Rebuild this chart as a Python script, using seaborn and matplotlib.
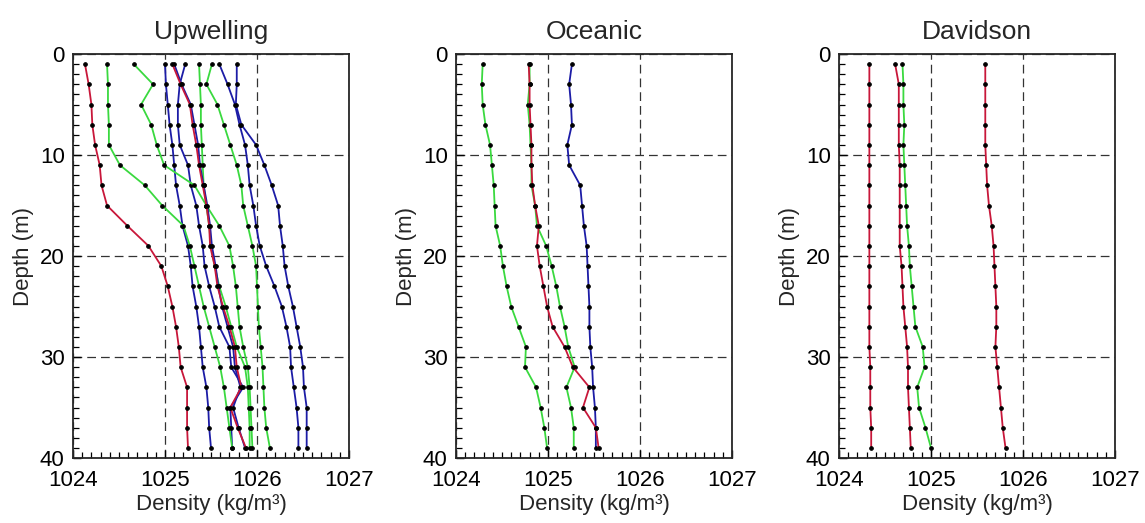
import pandas as pd
import seaborn as sns
import matplotlib
matplotlib.use("Agg")
import matplotlib.pyplot as plt
from matplotlib.ticker import MultipleLocator

# profundidades de muestreo (m)
depth = [1, 3, 5, 7, 9, 11, 13, 15, 17, 19, 21, 23, 25, 27, 29, 31, 33, 35, 37, 39]

# Upwelling
upw_red_a = [1024.13, 1024.17, 1024.20, 1024.21, 1024.24, 1024.29, 1024.31, 1024.37, 1024.59, 1024.82,
             1024.96, 1025.03, 1025.08, 1025.12, 1025.15, 1025.17, 1025.24, 1025.24, 1025.24, 1025.25]
upw_red_e = [1025.08, 1025.17, 1025.27, 1025.30, 1025.34, 1025.37, 1025.41, 1025.45, 1025.48, 1025.49,
             1025.54, 1025.57, 1025.63, 1025.70, 1025.76, 1025.78, 1025.83, 1025.71, 1025.79, 1025.88]
upw_green_b = [1024.37, 1024.38, 1024.38, 1024.39, 1024.39, 1024.51, 1024.78, 1024.97, 1025.20, 1025.27,
               1025.32, 1025.37, 1025.42, 1025.48, 1025.54, 1025.60, 1025.64, 1025.67, 1025.70, 1025.73]
upw_green_c = [1024.66, 1024.87, 1024.74, 1024.85, 1024.91, 1024.99, 1025.32, 1025.45, 1025.59, 1025.70,
               1025.74, 1025.77, 1025.79, 1025.81, 1025.85, 1025.90, 1025.92, 1025.93, 1025.94, 1025.95]
upw_green_h = [1025.37, 1025.38, 1025.39, 1025.39, 1025.40, 1025.41, 1025.42, 1025.45, 1025.48, 1025.50,
               1025.54, 1025.59, 1025.66, 1025.72, 1025.78, 1025.87, 1025.90, 1025.91, 1025.92, 1025.92]
upw_green_i = [1025.51, 1025.45, 1025.57, 1025.64, 1025.71, 1025.78, 1025.83, 1025.85, 1025.90, 1025.95,
               1025.99, 1026.00, 1026.01, 1026.02, 1026.04, 1026.06, 1026.07, 1026.08, 1026.10, 1026.14]
upw_blue_d = [1025.00, 1025.01, 1025.03, 1025.05, 1025.08, 1025.10, 1025.12, 1025.16, 1025.19, 1025.25,
              1025.28, 1025.30, 1025.34, 1025.37, 1025.39, 1025.41, 1025.45, 1025.47, 1025.48, 1025.50]
upw_blue_f = [1025.10, 1025.18, 1025.28, 1025.32, 1025.36, 1025.38, 1025.42, 1025.46, 1025.49, 1025.51,
              1025.55, 1025.58, 1025.62, 1025.68, 1025.74, 1025.76, 1025.82, 1025.74, 1025.80, 1025.87]
upw_blue_g = [1025.22, 1025.16, 1025.14, 1025.14, 1025.16, 1025.25, 1025.28, 1025.34, 1025.37, 1025.41,
              1025.43, 1025.48, 1025.54, 1025.59, 1025.70, 1025.72, 1025.85, 1025.71, 1025.72, 1025.73]
upw_blue_j = [1025.59, 1025.68, 1025.76, 1025.81, 1025.87, 1025.90, 1025.92, 1025.96, 1025.99, 1026.03,
              1026.10, 1026.19, 1026.27, 1026.32, 1026.36, 1026.37, 1026.40, 1026.43, 1026.45, 1026.45]
upw_blue_k = [1025.78, 1025.78, 1025.77, 1025.83, 1025.99, 1026.08, 1026.16, 1026.23, 1026.25, 1026.28,
              1026.30, 1026.34, 1026.39, 1026.43, 1026.47, 1026.50, 1026.51, 1026.54, 1026.54, 1026.54]

# Oceanic
oce_green_1 = [1024.29, 1024.28, 1024.29, 1024.32, 1024.37, 1024.39, 1024.41, 1024.42, 1024.43, 1024.48,
               1024.51, 1024.55, 1024.60, 1024.68, 1024.76, 1024.75, 1024.87, 1024.92, 1024.96, 1024.99]
oce_green_2 = [1024.80, 1024.80, 1024.78, 1024.80, 1024.81, 1024.82, 1024.82, 1024.86, 1024.88, 1024.98,
               1025.04, 1025.09, 1025.13, 1025.18, 1025.22, 1025.29, 1025.20, 1025.25, 1025.28, 1025.28]
oce_red = [1024.79, 1024.80, 1024.80, 1024.81, 1024.82, 1024.82, 1024.83, 1024.86, 1024.90, 1024.88,
           1024.91, 1024.95, 1024.99, 1025.05, 1025.18, 1025.27, 1025.45, 1025.38, 1025.52, 1025.55]
oce_blue = [1025.26, 1025.23, 1025.25, 1025.26, 1025.21, 1025.23, 1025.35, 1025.37, 1025.39, 1025.42,
            1025.43, 1025.44, 1025.45, 1025.45, 1025.46, 1025.48, 1025.49, 1025.51, 1025.52, 1025.52]

# Davidson
dav_red_1 = [1024.33, 1024.33, 1024.33, 1024.33, 1024.33, 1024.33, 1024.33, 1024.33, 1024.33, 1024.33,
             1024.33, 1024.33, 1024.33, 1024.33, 1024.33, 1024.34, 1024.34, 1024.34, 1024.35, 1024.35]
dav_red_2 = [1024.61, 1024.65, 1024.65, 1024.65, 1024.65, 1024.66, 1024.66, 1024.66, 1024.66, 1024.66,
             1024.68, 1024.69, 1024.70, 1024.72, 1024.74, 1024.75, 1024.75, 1024.76, 1024.77, 1024.78]
dav_green = [1024.69, 1024.70, 1024.70, 1024.71, 1024.70, 1024.71, 1024.72, 1024.73, 1024.74, 1024.76,
             1024.77, 1024.79, 1024.81, 1024.83, 1024.91, 1024.93, 1024.85, 1024.87, 1024.94, 1025.00]
dav_red_3 = [1025.59, 1025.59, 1025.59, 1025.59, 1025.59, 1025.60, 1025.61, 1025.63, 1025.66, 1025.68,
             1025.69, 1025.70, 1025.71, 1025.71, 1025.70, 1025.72, 1025.74, 1025.76, 1025.78, 1025.81]

RED = "#c8173a"
GREEN = "#3ad93f"
BLUE = "#1c1ca6"

paneles = [
    ("Upwelling", [(upw_blue_d, BLUE), (upw_blue_g, BLUE), (upw_blue_j, BLUE), (upw_blue_k, BLUE),
                   (upw_green_b, GREEN), (upw_green_c, GREEN), (upw_green_h, GREEN), (upw_green_i, GREEN),
                   (upw_blue_f, BLUE), (upw_red_a, RED), (upw_red_e, RED)]),
    ("Oceanic", [(oce_blue, BLUE), (oce_green_1, GREEN), (oce_green_2, GREEN), (oce_red, RED)]),
    ("Davidson", [(dav_red_1, RED), (dav_red_2, RED), (dav_green, GREEN), (dav_red_3, RED)]),
]

sns.set_style("ticks", {"xtick.direction": "in", "ytick.direction": "in"})
plt.rcParams['font.family'] = ['Liberation Sans', 'DejaVu Sans']
plt.rcParams.update({"xtick.major.size": 6, "ytick.major.size": 6,
                     "xtick.minor.size": 4, "ytick.minor.size": 4,
                     "xtick.color": "black", "ytick.color": "black"})

fig = plt.figure(figsize=(11.45, 5.23), dpi=100)
lefts = [73 / 1145, 456 / 1145, 839 / 1145]

for (titulo, perfiles), left in zip(paneles, lefts):
    ax = fig.add_axes([left, 1 - 458 / 523, 276 / 1145, 404 / 523])

    # un solo DataFrame largo por panel, un perfil por hue
    filas = []
    for n, (valores, color) in enumerate(perfiles):
        for d, v in zip(depth, valores):
            filas.append({"Perfil": n, "Density": v, "Depth": d})
    PanelDf = pd.DataFrame(filas)
    paleta = {n: color for n, (valores, color) in enumerate(perfiles)}

    sns.lineplot(data=PanelDf, x="Density", y="Depth", hue="Perfil", palette=paleta,
                 orient="y", estimator=None, legend=False, lw=1.3,
                 marker="o", ms=2.6, mfc="black", mec="black", ax=ax)

    ax.set_xlim(1024, 1027)
    ax.set_ylim(40, 0)
    ax.xaxis.set_major_locator(MultipleLocator(1))
    ax.yaxis.set_major_locator(MultipleLocator(10))
    ax.xaxis.set_minor_locator(MultipleLocator(0.1))
    ax.yaxis.set_minor_locator(MultipleLocator(1))

    # rejilla discontinua en las marcas principales
    ax.grid(True, which="major", color="#333333", lw=0.9, ls=(0, (7, 4)))

    for s in ax.spines.values():
        s.set_linewidth(1.3)
    ax.set_title(titulo, fontsize=19, pad=11)
    ax.set_xlabel("Density (kg/m³)", fontsize=16, labelpad=2)
    ax.set_ylabel("Depth (m)", fontsize=16, labelpad=4)

    # marcas hacia dentro, abajo e izquierda
    ax.tick_params(which="both", direction="in", bottom=True, left=True, top=False, right=False)
    ax.tick_params(which="major", length=6, width=1.0)
    ax.tick_params(which="minor", length=4, width=0.9)
    ax.tick_params(axis="x", which="major", labelsize=16, pad=9)
    ax.tick_params(axis="y", which="major", labelsize=16, pad=6)

fig.savefig("out.png", dpi=100)
